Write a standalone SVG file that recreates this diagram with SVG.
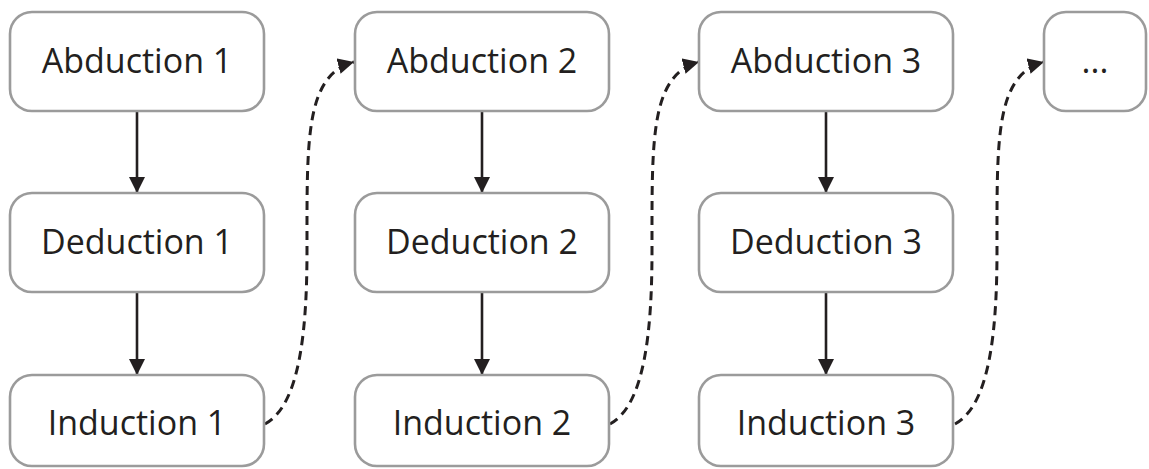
<svg xmlns="http://www.w3.org/2000/svg" width="1149" height="469" viewBox="0 0 1149 469">
<style>
.box{fill:#fff;stroke:#9b9b9b;stroke-width:2.6}
.lbl{font-family:"Open Sans","Liberation Sans",sans-serif;font-size:34px;fill:#231f20;text-anchor:middle}
.solid{stroke:#231f20;stroke-width:2.6;fill:none;marker-end:url(#ah)}
.dash{stroke:#231f20;stroke-width:3;fill:none;stroke-dasharray:9,6;marker-end:url(#ah)}
</style>
<defs>
<marker id="ah" viewBox="0 0 10 10" refX="10" refY="5" markerWidth="16" markerHeight="16" markerUnits="userSpaceOnUse" orient="auto">
<path d="M0,0 L10,5 L0,10 Z" fill="#231f20"/>
</marker>
</defs>
<g id="connectors">
<line class="solid" x1="137" y1="111" x2="137" y2="193"/>
<line class="solid" x1="137" y1="292" x2="137" y2="375"/>
<line class="solid" x1="482" y1="111" x2="482" y2="193"/>
<line class="solid" x1="482" y1="292" x2="482" y2="375"/>
<line class="solid" x1="826" y1="111" x2="826" y2="193"/>
<line class="solid" x1="826" y1="292" x2="826" y2="375"/>
<path class="dash" d="M265,424 C300,405 307,330 307,250 C307,140 305,75 354,62"/>
<path class="dash" d="M610,424 C645,405 652,330 652,250 C652,140 650,75 699,62"/>
<path class="dash" d="M955,424 C990,405 997,330 997,250 C997,140 995,75 1044,62"/>
</g>
<g id="abduction1"><rect class="box" x="10" y="12" width="254" height="99" rx="22"/><text class="lbl" x="137" y="73">Abduction 1</text></g>
<g id="deduction1"><rect class="box" x="10" y="193" width="254" height="99" rx="22"/><text class="lbl" x="137" y="254">Deduction 1</text></g>
<g id="induction1"><rect class="box" x="10" y="375" width="254" height="91" rx="22"/><text class="lbl" x="137" y="435">Induction 1</text></g>
<g id="abduction2"><rect class="box" x="355" y="12" width="254" height="99" rx="22"/><text class="lbl" x="482" y="73">Abduction 2</text></g>
<g id="deduction2"><rect class="box" x="355" y="193" width="254" height="99" rx="22"/><text class="lbl" x="482" y="254">Deduction 2</text></g>
<g id="induction2"><rect class="box" x="355" y="375" width="254" height="91" rx="22"/><text class="lbl" x="482" y="435">Induction 2</text></g>
<g id="abduction3"><rect class="box" x="699" y="12" width="254" height="99" rx="22"/><text class="lbl" x="826" y="73">Abduction 3</text></g>
<g id="deduction3"><rect class="box" x="699" y="193" width="254" height="99" rx="22"/><text class="lbl" x="826" y="254">Deduction 3</text></g>
<g id="induction3"><rect class="box" x="699" y="375" width="254" height="91" rx="22"/><text class="lbl" x="826" y="435">Induction 3</text></g>
<g id="more"><rect class="box" x="1044" y="12" width="102" height="99" rx="22"/><text class="lbl" x="1095" y="73">...</text></g>
</svg>
